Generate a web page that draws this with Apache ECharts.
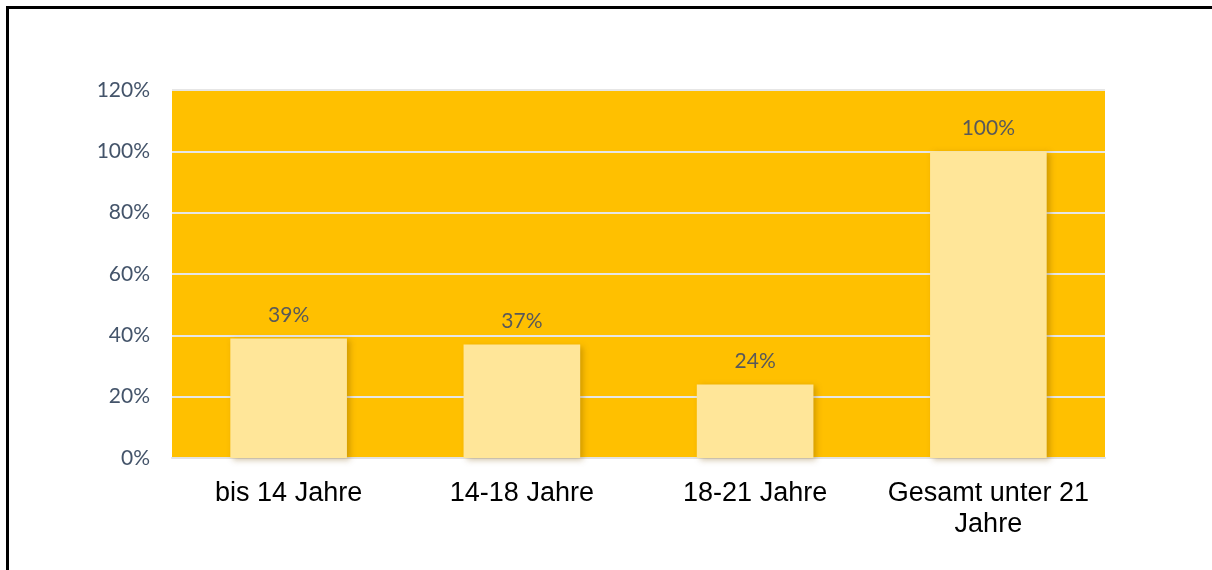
<!DOCTYPE html>
<html lang="de">
<head>
    <meta charset="UTF-8">
    <title>Anteil nach Altersgruppe</title>
    <script src="https://cdn.jsdelivr.net/npm/echarts@6/dist/echarts.min.js"></script>
    <style>
        body {
            margin: 0;
            padding: 0;
            background-color: #fff;
        }
        #chart {
            width: 1212px;
            height: 570px;
        }
        .frame {
            position: absolute;
            left: 6px;
            top: 6px;
            width: 1220px;
            height: 562px;
            border-top: 3px solid #000;
            border-left: 3px solid #000;
            pointer-events: none;
        }
    </style>
</head>
<body>
    <div id="chart"></div>
    <div class="frame"></div>

    <script>
        // Kategorien und Werte (in %)
        const categories = ['bis 14 Jahre', '14-18 Jahre', '18-21 Jahre', 'Gesamt unter 21\nJahre'];
        const values = [39, 37, 24, 100];
        const yTicks = [0, 20, 40, 60, 80, 100, 120];

        const myChart = echarts.init(document.getElementById('chart'));

        const option = {
            backgroundColor: '#fff',
            animation: false,
            grid: {
                left: 172,
                right: 107,
                top: 90,
                bottom: 112,
                show: true,
                backgroundColor: '#FFC000',
                borderWidth: 0
            },
            xAxis: {
                type: 'category',
                data: categories,
                axisLine: { show: true, lineStyle: { color: '#E3E3E3', width: 2 } },
                axisTick: { show: false },
                axisLabel: {
                    interval: 0,
                    hideOverlap: false,
                    color: '#000',
                    fontFamily: 'Liberation Sans, Arial, sans-serif',
                    fontSize: 27,
                    lineHeight: 31,
                    margin: 20
                }
            },
            yAxis: {
                type: 'value',
                min: yTicks[0],
                max: yTicks[yTicks.length - 1],
                interval: 20,
                axisLine: { show: false },
                axisTick: { show: false },
                axisLabel: {
                    formatter: '{value}%',
                    color: '#44546A',
                    fontFamily: 'Lato, "Open Sans", sans-serif',
                    fontSize: 21,
                    margin: 22
                },
                splitLine: {
                    show: true,
                    lineStyle: { color: '#E6E6E6', width: 2 }
                }
            },
            series: [
                {
                    type: 'bar',
                    data: values,
                    barWidth: '50%',
                    itemStyle: {
                        color: '#FFE699',
                        shadowColor: 'rgba(120, 80, 0, 0.35)',
                        shadowBlur: 6,
                        shadowOffsetX: 3,
                        shadowOffsetY: 2
                    },
                    label: {
                        show: true,
                        position: 'top',
                        distance: 13,
                        formatter: '{c}%',
                        color: '#595959',
                        fontFamily: 'Lato, "Open Sans", sans-serif',
                        fontSize: 21
                    }
                }
            ]
        };

        myChart.setOption(option);
    </script>
</body>
</html>
